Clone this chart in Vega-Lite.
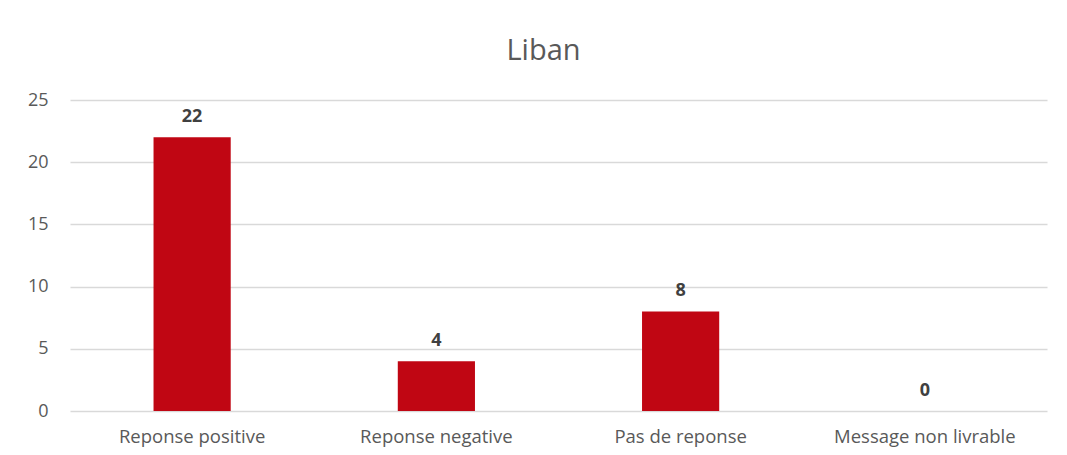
{
  "$schema": "https://vega.github.io/schema/vega-lite/v6.json",
  "width": 977,
  "height": 311,
  "autosize": "none",
  "padding": {"left": 70, "top": 100, "right": 20, "bottom": 44},
  "background": "white",
  "title": {"text": "Liban", "fontSize": 29, "font": "Open Sans", "fontWeight": "normal", "color": "#595959", "anchor": "middle", "frame": "group", "offset": 25, "dx": -15},
  "data": {"values": [
    {"categorie": "Reponse positive", "valeur": 22},
    {"categorie": "Reponse negative", "valeur": 4},
    {"categorie": "Pas de reponse", "valeur": 8},
    {"categorie": "Message non livrable", "valeur": 0}
  ]},
  "encoding": {
    "x": {"field": "categorie", "type": "nominal", "sort": null,
      "scale": {"paddingInner": 0.684, "paddingOuter": 0.342},
      "axis": {"title": null, "labelAngle": 0, "ticks": false, "domain": false, "labelLimit": 400, "labelFont": "Open Sans", "labelFontSize": 18.5, "labelColor": "#595959", "labelPadding": 16}},
    "y": {"field": "valeur", "type": "quantitative",
      "scale": {"domain": [0, 25]},
      "axis": {"title": null, "values": [0, 5, 10, 15, 20, 25], "ticks": false, "domain": false, "gridColor": "#d9d9d9", "gridWidth": 1.5, "labelFont": "Open Sans", "labelFontSize": 18, "labelColor": "#595959", "labelPadding": 22}}
  },
  "layer": [
    {"mark": {"type": "bar", "color": "#C00613"}},
    {"mark": {"type": "text", "baseline": "bottom", "dy": -11, "font": "Open Sans", "fontSize": 18, "fontWeight": "bold", "color": "#404040"},
      "encoding": {"text": {"field": "valeur", "type": "quantitative"}}}
  ],
  "config": {"view": {"stroke": null}}
}
